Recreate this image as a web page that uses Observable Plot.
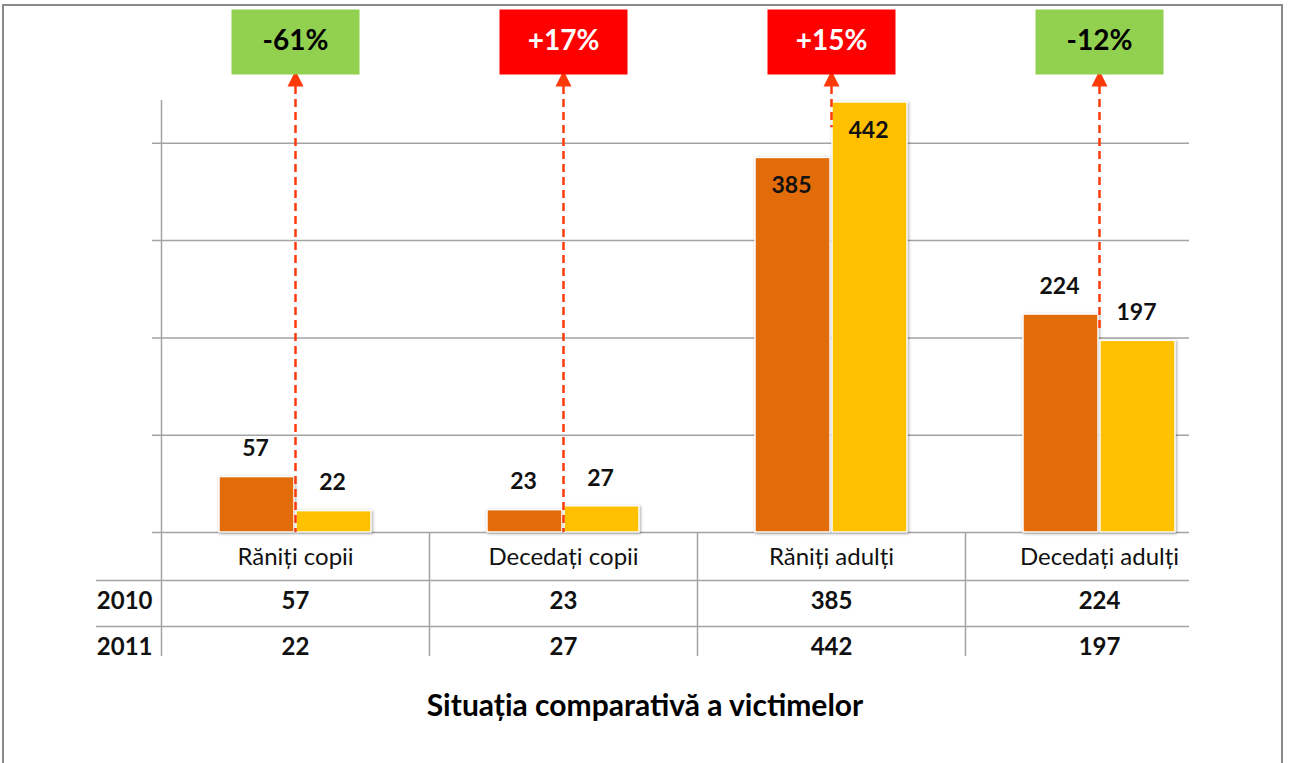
<!DOCTYPE html>
<html>
<head>
<meta charset="utf-8">
<script src="https://cdn.jsdelivr.net/npm/d3@7"></script>
<script src="https://cdn.jsdelivr.net/npm/@observablehq/plot@0.6"></script>
<style>
  body { margin: 0; background: #fff; font-family: Lato, "Open Sans", sans-serif; }
  #page { position: relative; width: 1290px; height: 763px; overflow: hidden; background: #fff; }
  #border { position: absolute; left: 2px; top: 4px; width: 1281px; height: 820px; border: 2px solid #8a8a8a; box-sizing: border-box; }
  #chart, #table { position: absolute; left: 0; }
  #table { top: 532px; }
  #chart { top: 0; }
  #title { position: absolute; top: 686px; left: 0; width: 1290px; text-align: center; font: bold 30px Lato, sans-serif; color: #000; }
  #chart g[aria-label="bar"] rect { filter: drop-shadow(1px 1px 1.5px rgba(0,0,0,0.35)); }
</style>
</head>
<body>
<div id="page">
  <div id="table"></div>
  <div id="chart"></div>
  <div id="title">Situația comparativă a victimelor</div>
  <div id="border"></div>
</div>
<script>
// ---- data ----
const categories = ["Răniți copii", "Decedați copii", "Răniți adulți", "Decedați adulți"];
const years = ["2010", "2011"];
const values2010 = [57, 23, 385, 224];
const values2011 = [22, 27, 442, 197];
const changeLabels = ["-61%", "+17%", "+15%", "-12%"];
const arrowBase = [0, 0, 416, 207];
const gridValues = [0, 100, 200, 300, 400];
const yMax = 444;

// ---- derived tables ----
const rows = categories.flatMap((c, i) => [
  {cat: c, year: "2010", value: values2010[i]},
  {cat: c, year: "2011", value: values2011[i]}
]);
const changes = categories.map((c, i) => ({
  cat: c,
  label: changeLabels[i],
  base: arrowBase[i],
  box: changeLabels[i].startsWith("-") ? "#92D050" : "#FF0000",
  ink: changeLabels[i].startsWith("-") ? "#000000" : "#FFFFFF"
}));

const GRID = "#a3a3a3";
const ARROW = "#FF3A0A";
const rectSymbol = {draw(ctx) { ctx.rect(-64, -32.5, 128, 65); }};
const triSymbol = {draw(ctx) { ctx.moveTo(0, -8); ctx.lineTo(8, 8); ctx.lineTo(-8, 8); ctx.closePath(); }};
const LBL = {fontSize: 23, fontWeight: "bold", fill: "#111"};

const chart = Plot.plot({
  width: 1290, height: 540,
  marginLeft: 161, marginRight: 57, marginTop: 100, marginBottom: 8,
  x: {type: "band", domain: categories, padding: 0, axis: null},
  y: {domain: [0, yMax], axis: null},
  color: {type: "identity"},
  style: {background: "transparent", overflow: "visible", fontFamily: "Lato, sans-serif"},
  marks: [
    Plot.ruleY(gridValues, {stroke: GRID, strokeWidth: 1.5, insetLeft: -9, insetRight: 44}),
    Plot.ruleX([categories[0]], {dx: -134, stroke: GRID, strokeWidth: 1.5}),
    Plot.barY(rows.filter(d => d.year === "2010"), {x: "cat", y: "value", fill: "#E36C0A", stroke: "white", strokeWidth: 1.5, insetLeft: 58, insetRight: 135}),
    Plot.barY(rows.filter(d => d.year === "2011"), {x: "cat", y: "value", fill: "#FFC000", stroke: "white", strokeWidth: 1.5, insetLeft: 135, insetRight: 58}),
    Plot.text(rows.filter(d => d.year === "2010" && d.value < 300), {x: "cat", y: "value", text: d => String(d.value), dx: -40, dy: -28, ...LBL}),
    Plot.text(rows.filter(d => d.year === "2011" && d.value < 300), {x: "cat", y: "value", text: d => String(d.value), dx: 37, dy: -28, ...LBL}),
    Plot.text(rows.filter(d => d.year === "2010" && d.value >= 300), {x: "cat", y: "value", text: d => String(d.value), dx: -40, dy: 28, ...LBL}),
    Plot.text(rows.filter(d => d.year === "2011" && d.value >= 300), {x: "cat", y: "value", text: d => String(d.value), dx: 37, dy: 28, ...LBL}),
    Plot.ruleX(changes, {x: "cat", y1: () => yMax, y2: "base", insetTop: -14, stroke: ARROW, strokeWidth: 2.5, strokeDasharray: "8,5"}),
    Plot.dot(changes, {x: "cat", frameAnchor: "top", dy: -22, symbol: triSymbol, fill: ARROW, stroke: "none"}),
    Plot.dot(changes, {x: "cat", frameAnchor: "top", dy: -58.5, symbol: rectSymbol, fill: "box", stroke: "none"}),
    Plot.text(changes, {x: "cat", frameAnchor: "top", lineAnchor: "middle", dy: -59, text: "label", fill: "ink", fontSize: 28, fontWeight: "bold"})
  ]
});
document.getElementById("chart").appendChild(chart);

const table = Plot.plot({
  width: 1290, height: 132,
  marginLeft: 161, marginRight: 57, marginTop: 0, marginBottom: 0,
  x: {type: "band", domain: categories, padding: 0, axis: null},
  y: {type: "band", domain: ["cat", ...years], range: [2, 140], padding: 0, axis: null},
  style: {background: "transparent", overflow: "hidden", fontFamily: "Lato, sans-serif"},
  marks: [
    Plot.ruleY(years, {dy: -23, stroke: GRID, strokeWidth: 1.5, insetLeft: -65, insetRight: 44}),
    Plot.ruleX(categories, {dx: -134, insetBottom: 8, stroke: GRID, strokeWidth: 1.5}),
    Plot.text(categories, {x: d => d, y: () => "cat", fontSize: 24, fill: "#111"}),
    Plot.text(rows, {x: "cat", y: "year", dy: -2, text: d => String(d.value), fontSize: 24, fontWeight: "bold", fill: "#111"}),
    Plot.text(years, {x: () => categories[0], y: d => d, dx: -143, dy: -2, textAnchor: "end", fontSize: 24, fontWeight: "bold", fill: "#111"})
  ]
});
document.getElementById("table").appendChild(table);
</script>
</body>
</html>
